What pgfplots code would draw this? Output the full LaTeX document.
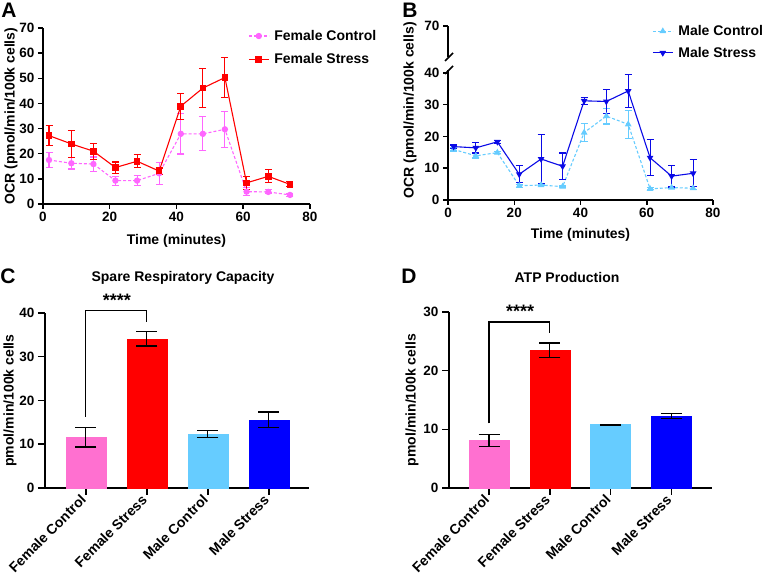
\documentclass[border=0pt]{standalone}
\usepackage{pgfplots}
\pgfplotsset{compat=1.18}
\usepackage{fontspec}
\setmainfont{Liberation Sans}

\definecolor{fcline}{RGB}{255,102,255}
\definecolor{fsred}{RGB}{255,0,0}
\definecolor{mcline}{RGB}{102,204,255}
\definecolor{msblue}{RGB}{10,10,230}
\definecolor{fcbar}{RGB}{255,112,208}
\definecolor{mcbar}{RGB}{102,204,255}
\definecolor{msbar}{RGB}{0,0,255}

\newcommand{\fs}[1]{\fontsize{#1}{#1}\selectfont\bfseries}

\pgfplotsset{
  panel/.style={
    scale only axis, anchor=south west,
    axis x line*=bottom, axis y line*=left,
    axis line style={line width=1.5pt},
    every tick/.style={black, line width=1.5pt},
    tick align=outside, major tick length=5pt,
    tick label style={font=\fs{13.5}},
    /pgf/number format/assume math mode=true,
    label style={font=\fs{14}},
    clip=false,
  },
  lineerr/.style={error bars/.cd, y dir=both, y explicit,
    error bar style={line width=1.1pt, solid},
    error mark options={rotate=90, mark size=3.5pt, line width=1.1pt, solid}},
  barerr/.style={error bars/.cd, y dir=both, y explicit,
    error bar style={black, line width=1.2pt, solid},
    error mark options={black, rotate=90, mark size=10.5pt, line width=1.2pt}},
  legend image code/.code={\draw[mark repeat=2, mark phase=2, #1]
    plot coordinates {(0pt,0pt) (10pt,0pt) (20pt,0pt)};},
  bars/.style={
    ybar, bar width=40pt, bar shift=0pt,
    xmin=-0.67, xmax=3.66, ymin=0,
    xtick={0,1,2,3},
    xticklabels={Female Control, Female Stress, Male Control, Male Stress},
    xticklabel style={rotate=45, anchor=east, font=\fs{14}},
    major tick length=7pt,
    ylabel={pmol/min/100k cells},
  },
}

\begin{document}
\begin{tikzpicture}
\path[use as bounding box] (0pt,0pt) rectangle (768pt,583pt);

% A
\begin{axis}[panel, at={(43pt,379pt)}, width=267pt, height=176pt,
  xmin=0, xmax=80, ymin=0, ymax=70,
  xtick={0,20,40,60,80}, ytick={0,10,20,30,40,50,60,70},
  xlabel={Time (minutes)}, ylabel={OCR (pmol/min/100k cells)},
  xlabel style={at={(axis description cs:0.5,-0.21)}, anchor=center},
  ylabel style={at={(axis description cs:-0.12,0.5)}, anchor=center},
  legend style={at={(axis description cs:0.768,1.0)}, anchor=north west,
    draw=none, fill=none, font=\fs{14}, row sep=8pt, inner sep=0pt,
    nodes={inner xsep=5pt}},
  legend cell align=left]
\addplot[color=fcline, densely dashed, line width=1.1pt, mark=*, mark size=2.6pt,
  mark options={solid}, lineerr] coordinates {
  (1.8,17.5) +- (0,3.0)
  (8.5,16.2) +- (0,2.3)
  (15.1,15.9) +- (0,2.8)
  (21.7,9.3) +- (0,1.8)
  (28.2,9.3) +- (0,2.0)
  (34.8,12.2) +- (0,4.3)
  (41.3,27.9) +- (0,8.0)
  (47.9,27.9) +- (0,6.8)
  (54.5,29.7) +- (0,7.2)
  (61.0,4.9) +- (0,1.5)
  (67.5,4.8) +- (0,0.8)
  (74.0,3.6) +- (0,0.5)
};
\addplot[color=fsred, line width=1.1pt, mark=square*, mark size=2.8pt, lineerr] coordinates {
  (1.8,27.2) +- (0,4.1)
  (8.5,23.9) +- (0,5.4)
  (15.1,21.0) +- (0,3.2)
  (21.7,14.5) +- (0,2.2)
  (28.2,17.0) +- (0,2.6)
  (34.8,13.1) +- (0,1.2)
  (41.3,38.9) +- (0,5.2)
  (47.9,46.1) +- (0,7.8)
  (54.5,50.3) +- (0,7.8)
  (61.0,8.4) +- (0,2.6)
  (67.5,11.0) +- (0,2.6)
  (74.0,7.8) +- (0,1.0)
};
\legend{Female Control, Female Stress}
\end{axis}

% B upper segment
\begin{axis}[panel, at={(448pt,526pt)}, width=265pt, height=31pt,
  xmin=0, xmax=80, ymin=60.25, ymax=70, ytick={70},
  axis x line=none]
\addplot[draw=none] coordinates {(0,65)};
\end{axis}

% B lower segment
\begin{axis}[panel, at={(448pt,383pt)}, width=265pt, height=130pt,
  xmin=0, xmax=80, ymin=0, ymax=40.9,
  xtick={0,20,40,60,80}, ytick={0,10,20,30,40},
  xlabel={Time (minutes)}, ylabel={OCR (pmol/min/100k cells)},
  xlabel style={at={(axis description cs:0.5,-0.27)}, anchor=center},
  ylabel style={at={(axis description cs:-0.143,0.69)}, anchor=center},
  legend style={at={(axis description cs:0.77,1.36)}, anchor=north west,
    draw=none, fill=none, font=\fs{14}, row sep=6pt, inner sep=0pt,
    nodes={inner xsep=5pt}},
  legend cell align=left]
\addplot[color=mcline, densely dashed, line width=1.1pt, mark=triangle*, mark size=2.8pt,
  mark options={solid}, lineerr] coordinates {
  (1.7,15.9) +- (0,0.5)
  (8.4,13.9) +- (0,0.7)
  (14.9,14.9) +- (0,0.3)
  (21.5,4.5) +- (0,0.5)
  (28.1,4.7) +- (0,0.2)
  (34.6,4.2) +- (0,0.2)
  (41.1,21.2) +- (0,2.8)
  (47.8,26.4) +- (0,2.5)
  (54.4,23.8) +- (0,4.4)
  (61.0,3.5) +- (0,0.3)
  (67.5,3.9) +- (0,0.3)
  (74.0,3.7) +- (0,0.5)
};
\addplot[color=msblue, line width=1.1pt, mark=triangle*, mark size=2.8pt,
  mark options={rotate=180}, lineerr] coordinates {
  (1.7,16.8) +- (0,0.5)
  (8.4,16.4) +- (0,1.6)
  (14.9,18.3) +- (0,0.4)
  (21.5,8.1) +- (0,2.7)
  (28.1,12.9) +- (0,7.8)
  (34.6,10.6) +- (0,4.2)
  (41.1,31.2) +- (0,1.1)
  (47.8,31.0) +- (0,3.8)
  (54.4,34.3) +- (0,5.2)
  (61.0,13.3) +- (0,5.6)
  (67.5,7.5) +- (0,3.4)
  (74.0,8.4) +- (0,4.2)
};
\legend{Male Control, Male Stress}
\end{axis}

% axis break marks in B
\draw[line width=1.5pt] (445pt,522pt) -- (453pt,530pt);
\draw[line width=1.5pt] (445pt,509pt) -- (453pt,517pt);

% C
\begin{axis}[panel, bars, at={(45pt,95pt)}, width=264pt, height=175pt,
  ymax=40, ytick={0,10,20,30,40},
  ylabel style={at={(axis description cs:-0.133,0.5)}, anchor=center}]
\addplot[fill=fcbar, draw=fcbar, barerr] coordinates {(0,11.6) +- (0,2.25)};
\addplot[fill=fsred, draw=fsred, barerr] coordinates {(1,34.1) +- (0,1.65)};
\addplot[fill=mcbar, draw=mcbar, barerr] coordinates {(2,12.3) +- (0,0.8)};
\addplot[fill=msbar, draw=msbar, barerr] coordinates {(3,15.6) +- (0,1.75)};
\draw[line width=1.3pt] (axis cs:0,16.3) -- (axis cs:0,40.5) -- (axis cs:1,40.5) -- (axis cs:1,38.0);
\node[font=\fs{18}] at (axis cs:0.51,43.0) {****};
\end{axis}

% D
\begin{axis}[panel, bars, at={(449pt,95pt)}, width=263pt, height=176pt,
  xmin=-0.66, xmax=3.67,
  ymax=30, ytick={0,10,20,30},
  ylabel style={at={(axis description cs:-0.141,0.5)}, anchor=center}]
\addplot[fill=fcbar, draw=fcbar, barerr] coordinates {(0,8.1) +- (0,1.05)};
\addplot[fill=fsred, draw=fsred, barerr] coordinates {(1,23.5) +- (0,1.2)};
\addplot[fill=mcbar, draw=mcbar, barerr] coordinates {(2,10.8) +- (0,0.05)};
\addplot[fill=msbar, draw=msbar, barerr] coordinates {(3,12.3) +- (0,0.4)};
\draw[line width=1.3pt] (axis cs:0,11.0) -- (axis cs:0,28.3) -- (axis cs:1,28.3) -- (axis cs:1,26.4);
\node[font=\fs{18}] at (axis cs:0.51,30.1) {****};
\end{axis}

% titles and panel letters
\node[font=\fs{14}] at (183pt,305pt) {Spare Respiratory Capacity};
\node[font=\fs{14}] at (567pt,305pt) {ATP Production};
\node[font=\fs{21}] at (9pt,573pt) {A};
\node[font=\fs{21}] at (410pt,573pt) {B};
\node[font=\fs{21}] at (8pt,307pt) {C};
\node[font=\fs{21}] at (409pt,307pt) {D};
\end{tikzpicture}
\end{document}
